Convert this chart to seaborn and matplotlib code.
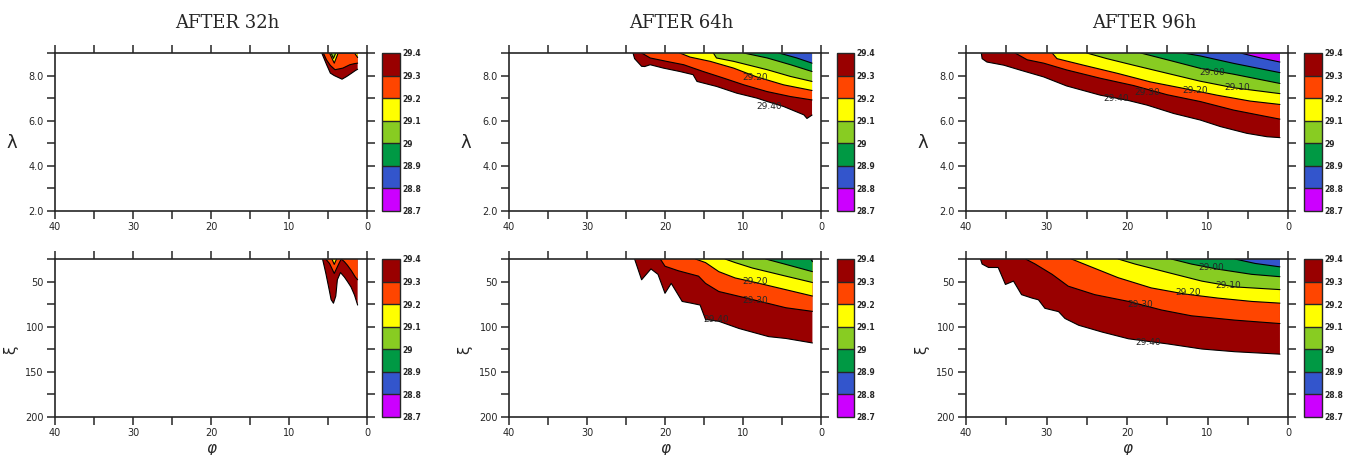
import matplotlib
matplotlib.use("Agg")
import matplotlib.pyplot as plt
import seaborn as sns
from matplotlib.colors import ListedColormap, BoundaryNorm

# --- Data (isotherm positions) ---
# colour-bar levels and band colours, bottom (28.7) to top (29.4)
levels = [28.7, 28.8, 28.9, 29.0, 29.1, 29.2, 29.3, 29.4]
level_labels = ["28.7", "28.8", "28.9", "29", "29.1", "29.2", "29.3", "29.4"]
band_colors = ["#cc00ff", "#3355cc", "#009944", "#88cc22", "#ffff00", "#ff4500", "#990000"]
titles = ["AFTER 32h", "AFTER 64h", "AFTER 96h"]

# each isoline: phi from the right edge up to where it meets the top axis
# order of isolines: 29.4, 29.3, 29.2, 29.1, 29.0, 28.9, 28.8
phi32_top = [[1.2, 1.5, 2.0, 2.6, 3.2, 3.7, 4.2, 4.7, 5.2, 5.5, 5.8],
             [1.2, 1.6, 2.2, 3.1, 4.1, 4.7, 5.2, 5.6],
             [1.2, 1.6, 3.7, 4.2, 4.8],
             [1.2, 4.0, 4.3, 4.6]]
lam32_top = [[8.28, 8.22, 8.1, 7.96, 7.84, 7.92, 8.0, 8.11, 8.5, 8.75, 9.0],
             [8.55, 8.53, 8.48, 8.33, 8.26, 8.45, 8.7, 9.0],
             [8.8, 9.0, 9.0, 8.55, 9.0],
             [9.0, 9.0, 8.76, 9.0]]

phi64_top = [[1.15, 1.8, 2.2, 4.8, 6.9, 8.2, 10.8, 13.4, 14.2, 15.9, 16.4, 18.1, 20.2, 21.9, 22.6, 23.0, 23.9, 24.1],
             [1.15, 3.9, 6.9, 9.9, 12.5, 15.1, 17.6, 19.8, 21.9, 23.0],
             [1.15, 4.8, 8.4, 11.2, 14.2, 16.8, 18.1],
             [1.15, 3.9, 6.9, 11.2, 13.4, 13.8],
             [1.15, 3.9, 6.9, 9.9],
             [1.15, 3.1, 5.4]]
lam64_top = [[6.25, 6.1, 6.26, 6.63, 6.85, 7.0, 7.22, 7.52, 7.59, 7.74, 8.04, 8.18, 8.33, 8.48, 8.4, 8.41, 8.75, 9.0],
             [6.92, 7.07, 7.29, 7.59, 7.89, 8.18, 8.48, 8.63, 8.78, 9.0],
             [7.34, 7.59, 7.96, 8.33, 8.63, 8.82, 9.0],
             [7.74, 7.96, 8.26, 8.63, 8.78, 9.0],
             [8.18, 8.48, 8.78, 9.0],
             [8.55, 8.78, 9.0]]

phi96_top = [[1.0, 2.6, 5.1, 8.4, 10.9, 14.2, 17.5, 20.0, 23.3, 27.5, 30.35, 33.25, 35.3, 37.4, 38.0, 38.1],
             [1.0, 2.6, 6.75, 10.9, 15.0, 19.2, 23.3, 27.5, 30.35, 32.4, 33.9],
             [1.0, 4.7, 8.8, 12.95, 17.1, 21.2, 25.4, 28.7, 29.3],
             [1.0, 6.75, 10.9, 15.0, 19.2, 22.5, 25.0],
             [1.0, 6.75, 10.9, 15.0, 18.3],
             [1.0, 6.75, 10.9, 13.0],
             [1.0, 3.4, 5.9]]
lam96_top = [[5.25, 5.29, 5.44, 5.74, 6.03, 6.32, 6.69, 6.91, 7.13, 7.54, 7.94, 8.24, 8.46, 8.6, 8.75, 9.0],
             [6.07, 6.18, 6.47, 6.85, 7.15, 7.56, 7.88, 8.25, 8.55, 8.7, 9.0],
             [6.72, 6.87, 7.13, 7.43, 7.72, 8.1, 8.46, 8.75, 9.0],
             [7.2, 7.46, 7.75, 8.1, 8.46, 8.75, 9.0],
             [7.65, 8.06, 8.32, 8.7, 9.0],
             [8.13, 8.54, 8.87, 9.0],
             [8.6, 8.78, 9.0]]

phi32_bot = [[1.2, 1.6, 2.05, 2.5, 2.9, 3.4, 3.8, 4.0, 4.3, 4.6, 4.85, 5.3, 5.7],
             [1.2, 1.5, 2.0, 2.5, 2.9, 3.3, 3.6, 4.2, 4.8, 5.3],
             [3.9, 4.2, 4.5]]
dep32_bot = [[76, 65, 56, 50, 45, 40, 48, 66, 74, 70, 59, 40, 25],
             [48, 45, 38, 32, 28, 25, 30, 41, 30, 25],
             [25, 31, 25]]

phi64_bot = [[1.1, 4.5, 6.7, 10.5, 13.1, 14.8, 15.5, 16.6, 17.8, 19.2, 20.0, 20.9, 21.8, 23.0, 23.9],
             [1.1, 4.5, 9.7, 13.1, 14.8, 15.7, 18.3, 20.0, 20.6],
             [1.1, 4.5, 8.4, 11.0, 13.1, 14.8, 16.1],
             [1.1, 4.5, 8.8, 11.0, 12.3],
             [1.1, 4.5, 7.1],
             [1.1, 1.3]]
dep64_bot = [[118, 113, 111, 102, 94, 92, 76, 74, 72, 52, 63, 42, 36, 48, 25],
             [83, 79, 68, 61, 52, 44, 38, 33, 25],
             [66, 59, 51, 46, 39, 29, 25],
             [51, 44, 35, 29, 25],
             [39, 31, 25],
             [28, 25]]

phi96_bot = [[1.0, 6.6, 10.7, 14.9, 19.8, 23.1, 26.0, 27.7, 28.5, 30.2, 31.0, 31.8, 33.1, 34.1, 35.1, 36.0, 37.2, 38.0, 38.2],
             [1.0, 6.6, 12.0, 15.7, 19.8, 24.0, 27.3, 29.3, 31.4, 32.6],
             [1.0, 4.5, 8.7, 12.8, 17.0, 21.1, 24.8, 26.9],
             [1.0, 6.6, 10.7, 14.9, 19.0, 21.1],
             [1.0, 4.5, 8.7, 12.0, 14.5],
             [1.0, 4.1, 6.6]]
dep96_bot = [[130.4, 127.7, 124.7, 119.1, 113.4, 105.9, 98.4, 90.9, 83.3, 79.6, 70.2, 68.3, 64.5, 49.5, 53.2, 34.4, 34.4, 30.6, 25],
             [96.5, 92.7, 87.9, 81.5, 72, 64.5, 55.1, 42, 30.6, 25],
             [73.9, 72, 68.3, 63.8, 57, 45.7, 32.5, 25],
             [58.9, 55.9, 49.5, 40, 30.6, 25],
             [44.6, 42, 36.3, 30.6, 25],
             [33.7, 29.9, 25]]

# contour labels (phi, value, text)
labels64_top = [(8.4, 7.9, "29.20"), (6.7, 6.65, "29.40")]
labels96_top = [(9.4, 8.15, "29.00"), (6.3, 7.45, "29.10"), (11.5, 7.35, "29.20"),
                (17.5, 7.25, "29.30"), (21.4, 6.97, "29.40")]
labels64_bot = [(8.4, 50, "29.20"), (8.4, 71, "29.30"), (13.5, 92, "29.40")]
labels96_bot = [(9.5, 34, "29.00"), (7.4, 54, "29.10"), (12.4, 62, "29.20"),
                (18.4, 75, "29.30"), (17.4, 118, "29.40")]

x_ticks = [40, 35, 30, 25, 20, 15, 10, 5, 0]
x_ticklabels = ["40", "", "30", "", "20", "", "10", "", "0"]
lam_ticks = [2, 3, 4, 5, 6, 7, 8, 9]
lam_ticklabels = ["2.0", "", "4.0", "", "6.0", "", "8.0", ""]
dep_ticks = [25, 50, 75, 100, 125, 150, 175, 200]
dep_ticklabels = ["", "50", "", "100", "", "150", "", "200"]

# --- Setup ---
sns.set_style("ticks")
W, H = 1355, 455
fig = plt.figure(figsize=(W / 100, H / 100), dpi=100)

fill_colors = band_colors[::-1]          # 29.4 band first, painted outward-in
cmap = ListedColormap(band_colors)
norm = BoundaryNorm(levels, cmap.N)

# pixel boxes: (left, right) for axes and colour bars, rows (top, bottom)
ax_x = [(55, 367), (509, 821), (966, 1288)]
cb_x = [(382, 400), (837, 854), (1304, 1322)]
rows = [(53, 211), (259, 417)]


def px_box(x0, x1, y0, y1):
    return [x0 / W, 1 - y1 / H, (x1 - x0) / W, (y1 - y0) / H]


def draw_panel(ax, phis, vals, labels, top):
    for phi, val, color in zip(phis, vals, fill_colors):
        ax.fill(phi + [phi[0]], val + [top], color=color, lw=0)
    for phi, val in zip(phis, vals):
        sns.lineplot(x=phi, y=val, ax=ax, color="black", lw=0.8,
                     sort=False, estimator=None)
    for x, y, s in labels:
        ax.text(x, y, s, fontsize=6.5, ha="center", va="center")


panel_data = [
    [(phi32_top, lam32_top, []), (phi32_bot, dep32_bot, [])],
    [(phi64_top, lam64_top, labels64_top), (phi64_bot, dep64_bot, labels64_bot)],
    [(phi96_top, lam96_top, labels96_top), (phi96_bot, dep96_bot, labels96_bot)],
]

for col in range(3):
    x0, x1 = ax_x[col]
    c0, c1 = cb_x[col]
    for row in range(2):
        y0, y1 = rows[row]
        ax = fig.add_axes(px_box(x0, x1, y0, y1))
        phis, vals, labels = panel_data[col][row]
        top = 9 if row == 0 else 25
        draw_panel(ax, phis, vals, labels, top)

        ax.set_xlim(40, 0)
        ax.set_xticks(x_ticks)
        ax.set_xticklabels(x_ticklabels)
        if row == 0:
            ax.set_ylim(2, 9)
            ax.set_yticks(lam_ticks)
            ax.set_yticklabels(lam_ticklabels)
        else:
            ax.set_ylim(200, 25)
            ax.set_yticks(dep_ticks)
            ax.set_yticklabels(dep_ticklabels)
        ax.set_xlabel("")
        ax.set_ylabel("")
        ax.tick_params(direction="out", length=6, width=1.1, top=True, right=True,
                       labelsize=7, pad=2)
        for sp in ax.spines.values():
            sp.set_visible(True)
            sp.set_linewidth(1.2)

        cax = fig.add_axes(px_box(c0, c1, y0, y1))
        cb = fig.colorbar(plt.cm.ScalarMappable(norm=norm, cmap=cmap), cax=cax,
                          drawedges=True)
        cb.set_ticks(levels)
        cb.set_ticklabels(level_labels)
        cb.ax.tick_params(length=0, labelsize=5.5, pad=2)
        for t in cb.ax.get_yticklabels():
            t.set_fontweight("bold")
        cb.outline.set_linewidth(1)
        cb.dividers.set_linewidth(1)

        # axis symbols
        if row == 0:
            fig.text((x0 - 43) / W, 1 - 143 / H, "λ", fontsize=13,
                     ha="center", va="center")
        else:
            fig.text((x0 - 44) / W, 1 - 350 / H, "ξ", fontsize=11, rotation=90,
                     ha="center", va="center")
            fig.text((x0 + x1) / 2 / W, 1 - 449 / H, "φ", fontsize=11,
                     style="italic", ha="center", va="center")

    fig.text((x0 + c1) / 2 / W, 1 - 23 / H, titles[col], family="DejaVu Serif",
             fontsize=13, ha="center", va="center")

fig.savefig("out.png", dpi=100)
